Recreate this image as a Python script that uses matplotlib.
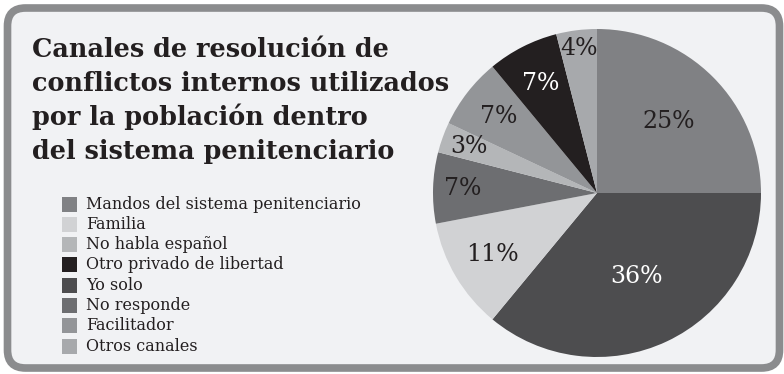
import matplotlib.pyplot as plt
import numpy as np
from matplotlib import font_manager
from matplotlib.patches import FancyBboxPatch, Rectangle

# categorias en el orden de la leyenda
categorias = ["Mandos del sistema penitenciario", "Familia", "No habla español",
              "Otro privado de libertad", "Yo solo", "No responde", "Facilitador",
              "Otros canales"]
colores = ["#808184", "#d1d2d4", "#b4b6b8", "#231f20", "#4d4d4f", "#6d6e71",
           "#939598", "#a7a9ac"]

# porcentajes en el orden en que aparecen en el pastel (horario desde arriba)
orden_pastel = ["Mandos del sistema penitenciario", "Yo solo", "Familia", "No responde",
                "No habla español", "Facilitador", "Otro privado de libertad", "Otros canales"]
porcentajes = [25, 36, 11, 7, 3, 7, 7, 4]

titulo = ["Canales de resolución de", "conflictos internos utilizados",
          "por la población dentro", "del sistema penitenciario"]

# distancia de cada etiqueta al centro (fraccion del radio) y color de texto
dist_etiqueta = [0.62, 0.56, 0.74, 0.82, 0.83, 0.76, 0.75, 0.89]
color_texto = ["#231f20", "white", "#231f20", "#231f20", "#231f20", "#231f20", "white", "#231f20"]

W, H = 784, 374
fig = plt.figure(figsize=(W / 100, H / 100), dpi=100)
fig.patch.set_facecolor("white")

fondo = fig.add_axes([0, 0, 1, 1])
fondo.set_xlim(0, W)
fondo.set_ylim(H, 0)
fondo.axis("off")

marco = FancyBboxPatch((7.5, 8), 772, 360, boxstyle="round,pad=0,rounding_size=18",
                       fc="#f1f2f4", ec="#8b8c8e", lw=5.5)
fondo.add_patch(marco)

serif = "DejaVu Serif"
# el titulo va en la version condensada si esta instalada
nombres = {f.name for f in font_manager.fontManager.ttflist}
if "DejaVu Serif Condensed" in nombres:
    serif_titulo, tam_titulo = "DejaVu Serif Condensed", 20.3
else:
    serif_titulo, tam_titulo = serif, 18.4

for i, linea in enumerate(titulo):
    fondo.text(32, 57 + 34 * i, linea, fontsize=tam_titulo, fontweight="bold",
               family=serif_titulo, color="#231f20", va="baseline", ha="left")

color_de = dict(zip(categorias, colores))
for i, cat in enumerate(categorias):
    y = 204 + 20.3 * i
    fondo.add_patch(Rectangle((62, y - 7.5), 15, 15, fc=color_de[cat], ec="none"))
    fondo.text(86, y, cat, fontsize=11.5, family=serif, color="#231f20",
               va="center", ha="left")

# pastel: centro (597, 193), radio 164 px
cx, cy, r = 597, 193, 164
ax = fig.add_axes([(cx - r) / W, (H - cy - r) / H, 2 * r / W, 2 * r / H])
cuñas, _ = ax.pie(porcentajes, colors=[color_de[c] for c in orden_pastel],
                  startangle=90, counterclock=False, radius=1,
                  wedgeprops=dict(linewidth=0))
ax.set_xlim(-1, 1)
ax.set_ylim(-1, 1)
ax.set_aspect("equal")
ax.axis("off")

for cuña, p, d, c in zip(cuñas, porcentajes, dist_etiqueta, color_texto):
    ang = np.deg2rad((cuña.theta1 + cuña.theta2) / 2)
    ax.text(d * np.cos(ang), d * np.sin(ang), f"{p}%", fontsize=17, family=serif,
            color=c, ha="center", va="center")

fig.savefig("out.png", dpi=100)
